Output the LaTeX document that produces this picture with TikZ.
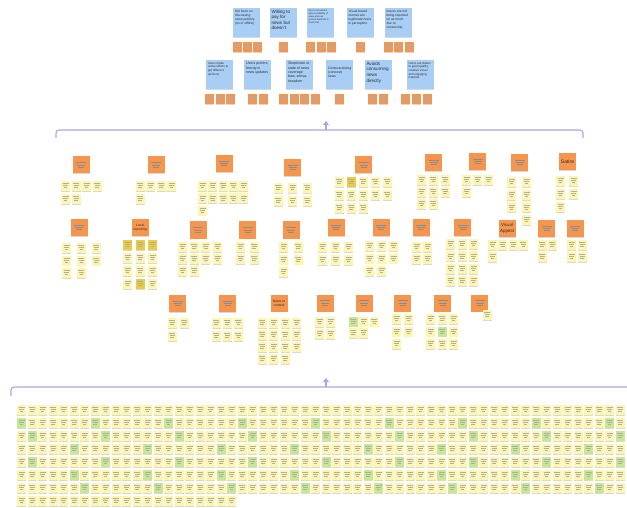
\documentclass[tikz,border=0pt]{standalone}
\usepackage{fontspec}
\setmainfont{Liberation Sans}
\usetikzlibrary{shadows,arrows.meta}

\definecolor{postit}{RGB}{254,246,172}
\definecolor{postgreen}{RGB}{200,232,142}
\definecolor{postgold}{RGB}{236,204,58}
\definecolor{header}{RGB}{246,150,78}
\definecolor{insight}{RGB}{168,206,246}
\definecolor{frame}{RGB}{184,160,222}
\definecolor{ink}{RGB}{45,45,45}

\tikzset{
  card/.style={inner sep=0pt, text=ink, drop shadow={shadow xshift=0pt, shadow yshift=-0.9pt, opacity=0.3}},
  scribbled/.style={path picture={
      \foreach \l/\w in {2.6/6,4.6/5,6.6/3.5}
        \draw[black!32, line width=0.3pt] ([shift={(-\w pt/2,-\l pt)}]path picture bounding box.north) -- ++(\w pt,0);}},
  scribbled big/.style={path picture={
      \foreach \l/\w in {6/10,8.3/8,10.6/6}
        \draw[black!45, line width=0.35pt] ([shift={(-\w pt/2,-\l pt)}]path picture bounding box.north) -- ++(\w pt,0);}},
  sticky/.style={card, scribbled, minimum width=9pt, minimum height=10pt},
  tag/.style={card, scribbled, fill=header, minimum width=9pt, minimum height=10pt},
  group/.style={card, fill=header, minimum width=17pt, minimum height=17pt, text width=15pt, align=center, font=\fontsize{3}{3.6}\selectfont},
  insight/.style={card, fill=insight, minimum width=27pt, minimum height=29pt},
  bracket/.style={frame, line width=1.1pt, rounded corners=3pt},
}

% colour of a single sticky, postit unless set with \tint
\newcommand{\tint}[2]{\expandafter\def\csname tint-#1\endcsname{#2}}
\newcommand{\tintof}[1]{\ifcsname tint-#1\endcsname\csname tint-#1\endcsname\else postit\fi}
\newcommand{\insighttext}[3]{\parbox[c][25pt][t]{23pt}{\raggedright\fontsize{#1}{#2}\selectfont #3}}

% name, first centre x, y, column step, row step, notes per row
\newcommand{\notecluster}[6]{%
  \foreach \n [count=\r] in {#6}{
    \foreach \c in {1,...,\n}{
      \edef\fc{\tintof{#1-\r-\c}}
      \node[sticky, fill=\fc] (#1-\r-\c) at ({#2+(\c-1)*#4},{#3+(\r-1)*#5}) {};
    }
  }%
}

\tint{a5-1-2}{postgold}
\tint{b2-1-1}{postgold}\tint{b2-1-2}{postgold}\tint{b2-1-3}{postgold}\tint{b2-4-2}{postgold}
\tint{c5-1-1}{postgreen}
\tint{c7-2-2}{postgreen}

\begin{document}
\begin{tikzpicture}[x=1pt, y=-1pt]
\fill[white] (0,0) rectangle (627,508);
\useasboundingbox (0,0) rectangle (627,508);

% insights, first row
\node[insight] (ins-t1) at (246.5,22.5) {\insighttext{3.3}{4.1}{Not keen on discussing news publicly (on or offline)}};
\node[insight] (ins-t2) at (283,22.5) {\insighttext{4.6}{5.4}{Willing to pay for news but doesn't}};
\node[insight] (ins-t3) at (320,22.5) {\insighttext{2.4}{3}{Users concerned about credibility of news and use various methods to check this}};
\node[insight] (ins-t4) at (360,22.5) {\insighttext{3.3}{4.1}{Visual based memes are legitimate news in perception}};
\node[insight] (ins-t5) at (398,22.5) {\insighttext{3.3}{4.1}{Issues are not being reported on as much due to censorship}};
\foreach \x [count=\i] in {237.5,247.5,257.5} \node[tag] (tag-t1-\i) at (\x,47) {};
\node[tag] (tag-t2-1) at (283.5,47) {};
\foreach \x [count=\i] in {310,321,331} \node[tag] (tag-t3-\i) at (\x,47) {};
\node[tag] (tag-t4-1) at (360.5,47) {};
\foreach \x [count=\i] in {388.5,398.5,409} \node[tag] (tag-t5-\i) at (\x,47) {};

% insights, second row
\node[insight] (ins-u1) at (219.5,74.5) {\insighttext{3}{3.8}{Users make active efforts to get different opinions}};
\node[insight] (ins-u2) at (257.5,74.5) {\insighttext{3.6}{4.4}{Users prefers brevity in news updates}};
\node[insight] (ins-u3) at (299.5,74.5) {\insighttext{3.6}{4.4}{Skepticism of state of news coverage bias, sensationalism}};
\node[insight] (ins-u4) at (339.5,74.5) {\insighttext{3.4}{4.2}{\vspace*{5pt}Contextualizing (contrast) news}};
\node[insight] (ins-u5) at (378,74.5) {\insighttext{4.6}{5.6}{Avoids consuming news directly}};
\node[insight] (ins-u6) at (420,74.5) {\insighttext{3}{3.7}{Users are drawn to good quality, creative visual and engaging material}};
\foreach \x [count=\i] in {209,220,230} \node[tag] (tag-u1-\i) at (\x,99.5) {};
\foreach \x [count=\i] in {252.5,263.5} \node[tag] (tag-u2-\i) at (\x,99.5) {};
\foreach \x [count=\i] in {283.5,294,304,315} \node[tag] (tag-u3-\i) at (\x,99.5) {};
\node[tag] (tag-u4-1) at (339,99.5) {};
\foreach \x [count=\i] in {372.5,383.5} \node[tag] (tag-u5-\i) at (\x,99.5) {};
\foreach \x [count=\i] in {405,416,427} \node[tag] (tag-u6-\i) at (\x,99.5) {};

% bracket over the groups
\coordinate (mid-base) at (326,130);
\coordinate (mid-tip) at (326,121);
\draw[bracket] (56,138) -- (56,130) -- (583,130) -- (583,138);
\draw[frame, line width=1.1pt, -{Triangle[width=6pt,length=4pt]}] (mid-base) -- (mid-tip);

% groups, first row
\node[group, scribbled big] (grp-a1) at (81,165) {};
\node[group, scribbled big] (grp-a2) at (156,165) {};
\node[group, scribbled big] (grp-a3) at (224,163.5) {};
\node[group, scribbled big] (grp-a4) at (292.5,167.5) {};
\node[group, scribbled big] (grp-a5) at (363.5,165) {};
\node[group, scribbled big] (grp-a6) at (433.5,162.5) {};
\node[group, scribbled big] (grp-a7) at (477.5,161.5) {};
\node[group, scribbled big] (grp-a8) at (519.5,162.5) {};
\node[group, font=\fontsize{5}{6}\selectfont] (grp-a9) at (567.5,161.5) {Satire};
\notecluster{a1}{65.5}{186}{10.5}{13}{4,2}
\notecluster{a2}{140}{186}{10.5}{13}{4,1}
\notecluster{a3}{202.5}{186}{10.3}{12.3}{5,5,1}
\notecluster{a4}{278}{188}{14.5}{13}{3,3}
\notecluster{a5}{339}{182}{12.1}{13}{5,5,3}
\notecluster{a6}{421.5}{180}{11.8}{12}{3,3,2}
\notecluster{a7}{466.5}{180}{11}{12}{3,1}
\notecluster{a8}{511.5}{182}{15}{12.7}{2,2,2}
\node[sticky, fill=postit] (a8-4-2) at (526.5,220) {};
\notecluster{a9}{560.5}{181}{13}{13}{2,2,1}

% groups, second row
\node[group, scribbled big] (grp-b1) at (79,227.5) {};
\node[group, font=\fontsize{3.4}{4}\selectfont] (grp-b2) at (140,227.5) {Local reporting};
\node[group, scribbled big] (grp-b3) at (198,230) {};
\node[group, scribbled big] (grp-b4) at (247.5,230) {};
\node[group, scribbled big] (grp-b5) at (291,230) {};
\node[group, scribbled big] (grp-b6) at (336,227.5) {};
\node[group, scribbled big] (grp-b7) at (381,227.5) {};
\node[group, scribbled big] (grp-b8) at (421,227.5) {};
\node[group, scribbled big] (grp-b9) at (462.5,227.5) {};
\node[group, font=\fontsize{4.4}{5.4}\selectfont] (grp-b10) at (507,228.5) {Visual Appeal};
\node[group, scribbled big] (grp-b11) at (546.5,228.5) {};
\node[group, scribbled big] (grp-b12) at (575,228.5) {};
\notecluster{b1}{66.5}{248}{14.8}{12.5}{3,3,2}
\notecluster{b2}{127.5}{245}{12.5}{13}{3,3,3,3}
\notecluster{b3}{182.5}{247}{11.7}{12}{4,4,2}
\notecluster{b4}{240.5}{247}{13.5}{12}{2,2}
\notecluster{b5}{283.5}{247}{14.5}{12.5}{2,2,1}
\notecluster{b6}{322.5}{247}{13}{13}{3,3}
\notecluster{b7}{369.5}{246}{12}{12.5}{3,3,2}
\notecluster{b8}{416.5}{247}{11}{12}{2,2}
\notecluster{b9}{450.5}{244}{11.5}{12.3}{3,3,3,3}
\notecluster{b10}{492.5}{245}{10.3}{12}{4,1}
\notecluster{b11}{542}{245}{10}{12}{2,1}
\notecluster{b12}{571.5}{245}{10.5}{12}{2,2}

% groups, third row
\node[group, scribbled big] (grp-c1) at (177.5,303.5) {};
\node[group, scribbled big] (grp-c2) at (227.5,303.5) {};
\node[group, font=\fontsize{3.4}{4}\selectfont] (grp-c3) at (279,303) {News in context};
\node[group, scribbled big] (grp-c4) at (325,303) {};
\node[group, scribbled big] (grp-c5) at (364,303) {};
\node[group, scribbled big] (grp-c6) at (402.5,303) {};
\node[group, scribbled big] (grp-c7) at (442.5,303) {};
\node[group, scribbled big] (grp-c8) at (479.5,303) {};
\notecluster{c1}{172}{323}{12}{13}{2,1}
\notecluster{c2}{216}{323}{11.2}{13}{3,3}
\notecluster{c3}{262}{323}{11.5}{12}{4,4,4,3}
\notecluster{c4}{319.5}{322}{11}{12}{2,2}
\notecluster{c5}{353}{321.5}{10.7}{11.5}{3,2}
\notecluster{c6}{396.5}{319}{12}{12.5}{2,2,1}
\notecluster{c7}{430.5}{319}{11.5}{12.5}{3,3,3}
\notecluster{c8}{487}{315}{10}{12}{1}

% bracket over the raw notes
\coordinate (low-base) at (326,387);
\coordinate (low-tip) at (326,378);
\draw[bracket] (11,396) -- (11,387) -- (640,387);
\draw[frame, line width=1.1pt, -{Triangle[width=6pt,length=4pt]}] (low-base) -- (low-tip);

% raw notes
\foreach \r in {1,...,8}{
  \pgfmathtruncatemacro\last{\r==8 ? 21 : 58}
  \foreach \c in {1,...,\last}{
    \pgfmathtruncatemacro\g{mod(\c*13+\r*\r*5+\c*\r,7)}
    \ifnum\g=0 \def\fc{postgreen}\else\def\fc{postit}\fi
    \node[sticky, fill=\fc] (raw-\r-\c) at ({21.5+(\c-1)*10.5},{410+(\r-1)*13}) {};
  }
}
\end{tikzpicture}
\end{document}
